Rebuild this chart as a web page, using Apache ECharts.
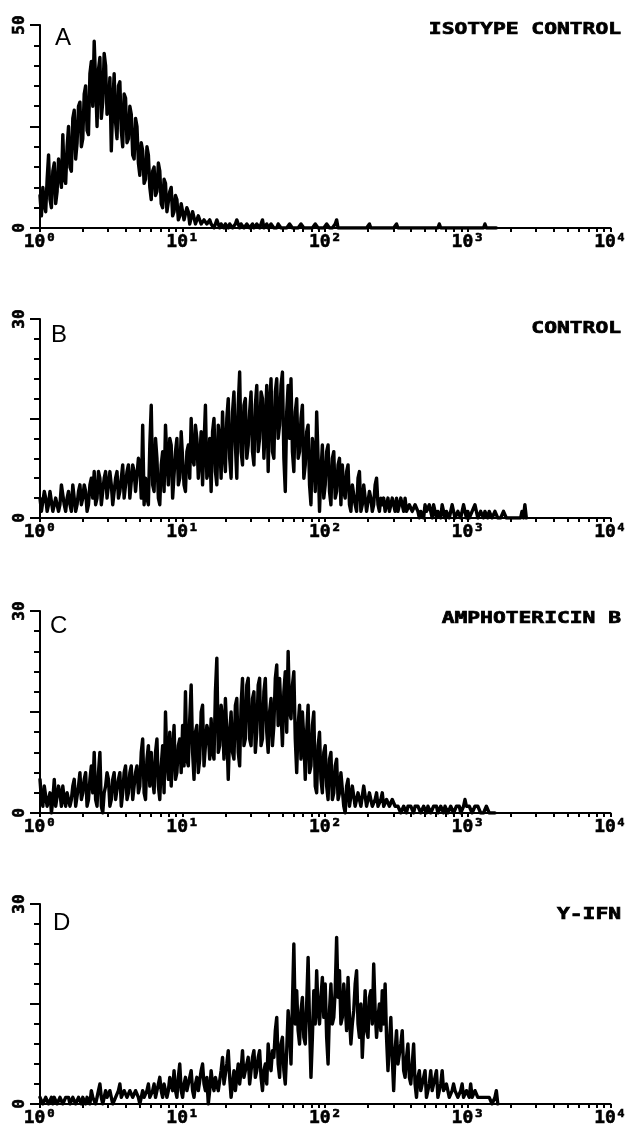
<!DOCTYPE html>
<html><head><meta charset="utf-8">
<script src="https://cdn.jsdelivr.net/npm/echarts@6/dist/echarts.min.js"></script>
<style>html,body{margin:0;padding:0;background:#fff}#c{width:630px;height:1131px}</style>
</head><body><div id="c"></div>
<script>
// channels are evenly spaced on the log scale: 100 channels per decade starting at 10^0
// (channels after the last listed one are empty)
const STEPS_PER_DECADE = 100;
const X_TICK_VALUES = [1, 10, 100, 1000, 10000];
const X_TICK_LABELS = ['10\u2070', '10\u00B9', '10\u00B2', '10\u00B3', '10\u2074'];
const PANEL_LETTERS = ['A', 'B', 'C', 'D'];
const PANEL_TITLES = ['ISOTYPE CONTROL', 'CONTROL', 'AMPHOTERICIN B', 'Y-IFN'];
const Y_MAX = [50, 30, 30, 30];

const countsA = [
  8,3,10,6,4,12,18,7,5,14,16,6,9,17,13,10,23,12,11,20,
  25,15,14,27,29,17,21,30,31,20,22,33,35,24,23,38,41,30,46,36,
  25,39,42,27,31,43,40,28,29,37,19,30,38,26,22,35,36,24,20,33,
  32,21,22,30,28,18,17,27,25,16,13,21,19,11,12,20,18,10,7,14,
  15,8,9,16,14,6,5,12,11,4,4,9,10,3,4,8,7,2,3,6,
  6,2,2,5,4,1,1,4,4,1,1,3,3,1,1,2,2,1,1,2,
  1,1,0,1,2,1,0,1,1,0,1,1,0,1,1,0,0,1,2,1,
  0,1,1,0,0,1,1,0,0,1,0,0,1,1,0,1,2,0,0,1,
  0,0,1,1,0,0,0,1,1,0,0,0,0,0,0,1,1,0,0,0,
  0,0,0,1,1,0,0,0,0,0,0,0,0,1,1,0,0,0,0,0,
  0,1,1,0,0,0,0,1,2,0,0,0,0,0,0,0,0,0,0,0,
  0,0,0,0,0,0,0,0,0,0,0,1,0,0,0,0,0,0,0,0,
  0,0,0,0,0,0,0,0,0,0,1,0,0,0,0,0,0,0,0,0,
  0,0,0,0,0,0,0,0,0,0,0,0,0,0,0,0,0,0,0,0,
  1,0,0,0,0,0,0,0,0,0,0,0,0,0,0,0,0,0,0,0,
  0,0,0,0,0,0,0,0,0,0,0,0,1,0,0,0,0,0,0,0,
  0
];
const countsB = [
  3,1,1,4,3,1,2,4,4,1,1,3,3,1,2,5,5,2,1,3,
  4,2,1,5,5,1,2,4,5,2,3,5,4,1,2,5,6,3,7,2,
  3,7,6,2,2,6,7,3,3,7,5,2,2,6,7,3,4,6,8,3,
  5,7,8,3,3,8,7,4,4,9,8,3,14,2,6,3,2,11,17,5,
  4,12,9,3,2,8,10,4,14,9,5,12,11,3,3,10,12,5,6,13,
  13,5,4,10,11,6,15,9,8,14,12,6,9,13,5,11,17,6,7,12,
  4,13,15,7,5,14,12,6,16,10,7,15,18,9,6,16,19,11,6,17,
  22,10,8,17,18,9,11,16,19,10,8,17,20,10,12,19,18,9,14,20,
  7,17,21,10,9,19,21,12,14,20,22,9,4,16,20,12,21,10,7,16,
  18,9,10,15,17,6,8,13,14,5,2,12,10,4,16,9,1,7,11,3,
  5,10,11,4,2,9,10,3,4,8,9,2,8,4,3,7,8,2,1,5,
  5,2,1,6,7,1,2,5,5,1,1,4,3,1,2,5,6,2,1,3,
  2,3,1,2,3,1,1,3,2,1,3,1,1,3,2,1,3,1,1,2,
  2,1,1,2,2,1,0,1,1,0,2,1,1,2,1,0,2,1,0,1,
  1,0,2,1,0,1,1,0,1,2,2,0,0,1,1,0,1,2,2,0,
  1,0,0,1,1,2,2,0,0,1,1,0,1,1,0,1,1,0,0,1,
  1,0,0,0,0,1,1,0,0,0,0,0,0,0,0,0,0,0,1,0,
  2,0
];
const countsC = [
  5,2,1,4,4,1,2,3,0,2,5,1,1,4,3,1,4,2,1,3,
  3,1,2,4,5,1,1,4,6,2,3,5,6,1,2,5,7,3,9,2,
  1,6,9,1,0,3,4,6,5,1,2,5,6,2,2,5,6,1,3,6,
  7,2,3,6,7,2,4,6,7,3,4,9,11,3,2,8,10,4,9,5,
  3,9,11,4,2,7,10,3,15,8,5,12,4,9,13,5,6,10,11,6,
  13,7,18,8,7,14,19,9,5,12,13,6,8,15,16,7,7,13,12,8,
  14,9,8,18,23,9,10,16,14,8,17,12,5,12,15,9,8,16,17,9,
  7,16,20,10,11,19,20,11,10,17,18,9,12,19,20,10,11,18,20,12,
  9,15,17,10,13,20,22,13,20,15,10,18,21,12,24,15,14,19,21,11,
  6,13,16,8,15,11,5,12,16,6,7,13,15,4,3,10,12,5,3,9,
  10,4,2,8,9,2,3,7,8,2,3,6,6,1,0,4,5,1,1,4,
  4,1,1,3,3,1,1,4,4,1,1,3,2,1,1,2,3,1,1,2,
  3,1,1,2,2,1,1,2,2,1,1,1,1,0,0,1,1,0,1,1,
  1,1,0,1,1,1,1,0,0,1,1,0,1,1,0,0,1,1,1,0,
  0,1,1,0,1,1,0,0,1,1,0,0,1,1,1,0,0,1,2,1,
  1,1,1,0,0,1,1,1,1,0,0,0,0,1,1,0,0,0,0,0
];
const countsD = [
  1,1,0,0,1,1,0,0,1,0,1,1,0,0,1,1,0,0,1,1,
  1,0,0,1,1,0,0,1,1,0,1,1,0,1,1,0,2,1,1,0,
  1,2,3,1,0,1,2,1,1,2,2,0,0,1,1,2,3,1,1,2,
  2,1,1,2,2,1,1,2,2,1,0,1,2,1,1,2,3,1,1,2,
  3,1,1,3,4,2,1,3,3,1,2,4,4,2,5,2,1,4,6,2,
  1,3,4,2,2,4,5,2,1,3,4,2,2,5,6,3,2,4,0,2,
  5,3,2,4,4,2,2,5,7,3,3,6,8,4,1,3,5,2,4,6,
  3,5,8,4,4,6,7,3,3,7,8,4,5,7,8,4,2,5,6,3,
  9,6,5,8,7,11,13,6,4,9,10,5,3,8,14,11,6,15,24,12,
  17,11,9,14,16,10,9,15,22,12,4,10,17,12,20,14,12,16,19,13,
  18,10,6,14,18,12,13,17,25,16,20,12,13,18,15,11,19,13,9,12,
  14,18,20,12,10,15,7,12,17,11,10,16,17,12,21,14,10,13,15,11,
  17,12,18,10,5,9,13,7,2,8,11,6,6,9,11,5,4,7,9,4,
  3,6,9,3,1,4,5,2,2,4,5,1,1,3,5,2,2,4,5,1,
  1,3,5,2,2,3,3,1,1,2,3,2,2,1,1,2,3,1,1,2,
  2,1,3,1,1,2,2,1,1,1,1,1,1,1,1,1,1,0,0,1,
  2,0
];
const PANEL_COUNTS = [countsA, countsB, countsC, countsD];

// ---- layout / style ----
const INK = '#000';
const GRIDS = [
  {left: 40, right: 19, top: 25, height: 203},
  {left: 40, right: 19, top: 319, height: 199},
  {left: 40, right: 19, top: 611, height: 202},
  {left: 40, right: 19, top: 904, height: 200}
];
const LETTER_POS = [[55, 26], [51, 323], [50, 614], [53, 911]];
const TITLE_POS = [[621, 22], [621, 321], [621, 611], [621, 907]];

const minorTicks = [];
for (let d = 0; d < 4; d++) {
  for (let k = 1; k <= 9; k++) minorTicks.push(k * Math.pow(10, d));
}
minorTicks.push(10000);

const xAxis = [], yAxis = [], series = [], graphic = [];
GRIDS.forEach((g, i) => {
  const M = Y_MAX[i];
  xAxis.push({
    type: 'log', logBase: 10, gridIndex: i, min: 1, max: 10000,
    axisLine: {show: true, lineStyle: {color: INK, width: 2}},
    axisTick: {show: true, length: 4, customValues: minorTicks, lineStyle: {color: INK, width: 2}},
    minorTick: {show: false},
    splitLine: {show: false},
    axisLabel: {
      customValues: X_TICK_VALUES,
      formatter: v => X_TICK_LABELS[X_TICK_VALUES.indexOf(Math.round(v))] || '',
      fontFamily: 'DejaVu Sans Mono', fontWeight: 'bold', fontSize: 18, color: INK, margin: 5,
      textBorderColor: INK, textBorderWidth: 0.6
    }
  });
  yAxis.push({
    type: 'value', gridIndex: i, min: 0, max: M, interval: M / 10, position: 'left',
    axisLine: {show: true, lineStyle: {color: INK, width: 2}},
    axisTick: {show: true, length: 6, lineStyle: {color: INK, width: 2}},
    splitLine: {show: false},
    axisLabel: {
      rotate: 90, margin: 12,
      formatter: v => (v === 0 || v === M) ? String(v) : '',
      fontFamily: 'DejaVu Sans Mono', fontWeight: 'bold', fontSize: 16, color: INK,
      textBorderColor: INK, textBorderWidth: 0.6
    }
  });
  yAxis.push({
    type: 'value', gridIndex: i, min: 0, max: M, interval: M / 2, position: 'left',
    axisLine: {show: false},
    axisTick: {show: true, length: 10, lineStyle: {color: INK, width: 2}},
    splitLine: {show: false},
    axisLabel: {show: false}
  });
  series.push({
    type: 'line', xAxisIndex: i, yAxisIndex: 2 * i,
    data: PANEL_COUNTS[i].map((c, k) => [Math.pow(10, k / STEPS_PER_DECADE), c]),
    showSymbol: false, symbol: 'none', smooth: false,
    lineStyle: {color: INK, width: 3.4, join: 'round', cap: 'round'},
    silent: true
  });
  graphic.push({
    type: 'text', x: LETTER_POS[i][0], y: LETTER_POS[i][1],
    style: {text: PANEL_LETTERS[i], fontFamily: 'Liberation Sans', fontSize: 24, fill: INK,
            align: 'left', verticalAlign: 'top', textAlign: 'left', textVerticalAlign: 'top'}
  });
  graphic.push({
    type: 'text', x: TITLE_POS[i][0], y: TITLE_POS[i][1], scaleX: 1.33,
    style: {text: PANEL_TITLES[i], fontFamily: 'DejaVu Sans Mono', fontWeight: 'bold', fontSize: 16, fill: INK,
            stroke: INK, lineWidth: 0.7,
            align: 'right', verticalAlign: 'top', textAlign: 'right', textVerticalAlign: 'top'}
  });
});

const chart = echarts.init(document.getElementById('c'), null, {renderer: 'canvas'});
chart.setOption({
  backgroundColor: '#fff',
  animation: false,
  grid: GRIDS,
  xAxis, yAxis, series, graphic
});
</script></body></html>
